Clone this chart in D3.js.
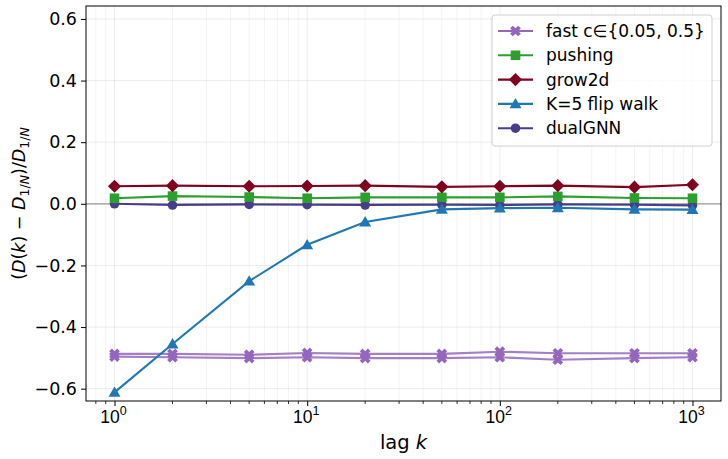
<!DOCTYPE html>
<html>
<head>
<meta charset="utf-8">
<script src="https://cdn.jsdelivr.net/npm/d3@7"></script>
<style>
  body { margin: 0; background: #fff; }
  svg { display: block; font-family: "DejaVu Sans", sans-serif; }
</style>
</head>
<body>
<div id="chart"></div>
<script>
// lags on the x axis
const lags = [1, 2, 5, 10, 20, 50, 100, 200, 500, 1000];

// series values
const fastLow = [-0.487, -0.487, -0.490, -0.484, -0.487, -0.487, -0.480, -0.485, -0.485, -0.485];
const fastHigh = [-0.496, -0.498, -0.501, -0.498, -0.501, -0.501, -0.498, -0.506, -0.501, -0.498];
const pushing = [0.018, 0.025, 0.022, 0.018, 0.021, 0.021, 0.021, 0.024, 0.019, 0.018];
const grow2d = [0.057, 0.059, 0.057, 0.058, 0.059, 0.055, 0.057, 0.059, 0.054, 0.062];
const flipWalk = [-0.612, -0.455, -0.251, -0.133, -0.059, -0.018, -0.014, -0.013, -0.018, -0.019];
const dualGNN = [0.000, -0.004, -0.002, -0.003, -0.004, -0.003, -0.004, -0.002, -0.003, -0.005];

const yTicks = [-0.6, -0.4, -0.2, 0.0, 0.2, 0.4, 0.6];
const xTicks = [1, 10, 100, 1000];

const width = 728;
const height = 459;
const margin = {top: 6, right: 7, bottom: 58, left: 86};

const series = [
  {name: "dualGNN", values: dualGNN, color: "#483d8b", marker: "circle"},
  {name: "fast c∈{0.05, 0.5}", values: fastLow, color: "#9467bd", marker: "x"},
  {name: null, values: fastHigh, color: "#9467bd", marker: "x"},
  {name: "pushing", values: pushing, color: "#2ca02c", marker: "square"},
  {name: "grow2d", values: grow2d, color: "#800020", marker: "diamond"},
  {name: "K=5 flip walk", values: flipWalk, color: "#1f77b4", marker: "triangle"}
];
const legendOrder = ["fast c∈{0.05, 0.5}", "pushing", "grow2d", "K=5 flip walk", "dualGNN"];

const svg = d3.select("#chart").append("svg")
  .attr("width", width)
  .attr("height", height);

const x = d3.scaleLog()
  .domain([Math.pow(10, -0.148), Math.pow(10, 3.148)])
  .range([margin.left, width - margin.right]);

const y = d3.scaleLinear()
  .domain([-0.64, 0.642])
  .range([height - margin.bottom, margin.top]);

// minor ticks for log axis
const minorTicks = [];
for (let d = 0.1; d <= 1000; d *= 10) {
  for (let m = 2; m <= 9; m++) {
    const v = d * m;
    if (v >= x.domain()[0] && v <= x.domain()[1]) minorTicks.push(v);
  }
}

// grid
const grid = svg.append("g");
grid.selectAll("line.minor")
  .data(minorTicks)
  .join("line")
    .attr("x1", d => x(d)).attr("x2", d => x(d))
    .attr("y1", margin.top).attr("y2", height - margin.bottom)
    .attr("stroke", "#b0b0b0").attr("stroke-opacity", 0.2).attr("stroke-width", 0.8);
grid.selectAll("line.vmajor")
  .data(xTicks)
  .join("line")
    .attr("x1", d => x(d)).attr("x2", d => x(d))
    .attr("y1", margin.top).attr("y2", height - margin.bottom)
    .attr("stroke", "#b0b0b0").attr("stroke-opacity", 0.3).attr("stroke-width", 0.8);
grid.selectAll("line.hmajor")
  .data(yTicks)
  .join("line")
    .attr("x1", margin.left).attr("x2", width - margin.right)
    .attr("y1", d => y(d)).attr("y2", d => y(d))
    .attr("stroke", "#b0b0b0").attr("stroke-opacity", 0.3).attr("stroke-width", 0.8);

// zero reference line
svg.append("line")
  .attr("x1", margin.left).attr("x2", width - margin.right)
  .attr("y1", y(0)).attr("y2", y(0))
  .attr("stroke", "#999").attr("stroke-width", 1.2);

const line = d3.line()
  .x((d, i) => x(lags[i]))
  .y(d => y(d));

function symbolPath(kind) {
  if (kind === "circle") return d3.symbol(d3.symbolCircle, 72)();
  if (kind === "square") return d3.symbol(d3.symbolSquare, 92)();
  if (kind === "diamond") return d3.symbol(d3.symbolSquare, 86)();
  if (kind === "triangle") return d3.symbol(d3.symbolTriangle, 62)();
  return d3.symbol(d3.symbolCross, 72)();
}
function symbolRotate(kind) {
  return (kind === "diamond" || kind === "x") ? " rotate(45)" : "";
}

const plot = svg.append("g");
series.forEach(s => {
  plot.append("path")
    .datum(s.values)
    .attr("fill", "none")
    .attr("stroke", s.color)
    .attr("stroke-width", 2.1)
    .attr("stroke-opacity", s.marker === "x" ? 0.85 : 1)
    .attr("d", line);
  plot.append("g")
    .selectAll("path")
    .data(s.values)
    .join("path")
      .attr("d", symbolPath(s.marker))
      .attr("transform", (d, i) => `translate(${x(lags[i])},${y(d) + (s.marker === "triangle" ? 1 : 0)})` + symbolRotate(s.marker))
      .attr("fill", s.color);
});

// frame
svg.append("rect")
  .attr("x", margin.left).attr("y", margin.top)
  .attr("width", width - margin.right - margin.left)
  .attr("height", height - margin.bottom - margin.top)
  .attr("fill", "none").attr("stroke", "#000").attr("stroke-width", 1);

// y axis
const yAxis = svg.append("g")
  .attr("transform", `translate(${margin.left},0)`)
  .call(d3.axisLeft(y).tickValues(yTicks).tickSize(5).tickPadding(4)
    .tickFormat(d => d3.format(".1f")(d).replace("-", "−")));
yAxis.select(".domain").remove();
yAxis.selectAll("text").style("font-size", "17.5px").attr("fill", "#000").style("font-family", "DejaVu Sans");

// x axis
const xAxis = svg.append("g")
  .attr("transform", `translate(0,${height - margin.bottom})`)
  .call(d3.axisBottom(x).tickValues(xTicks).tickSize(5).tickPadding(6).tickFormat(""));
xAxis.select(".domain").remove();
xAxis.append("g").selectAll("line")
  .data(minorTicks)
  .join("line")
    .attr("x1", d => x(d)).attr("x2", d => x(d))
    .attr("y1", 0).attr("y2", 3)
    .attr("stroke", "#000").attr("stroke-width", 0.8);
xAxis.selectAll(".tick text").remove();
const xLabels = xAxis.append("g").selectAll("text")
  .data(xTicks)
  .join("text")
    .attr("x", d => x(d) - 1)
    .attr("y", 22)
    .attr("text-anchor", "middle")
    .style("font-size", "17.5px")
    .attr("fill", "#000");
xLabels.append("tspan").text("10");
xLabels.append("tspan")
  .attr("dy", -8)
  .style("font-size", "12.5px")
  .text(d => Math.round(Math.log10(d)));

// axis titles
svg.append("text")
  .attr("x", (margin.left + width - margin.right) / 2)
  .attr("y", 449)
  .attr("text-anchor", "middle")
  .style("font-size", "19.5px")
  .html('lag <tspan font-style="italic">k</tspan>');

const yt = svg.append("text")
  .attr("transform", `translate(25,${(margin.top + height - margin.bottom) / 2}) rotate(-90)`)
  .attr("text-anchor", "middle")
  .style("font-size", "17.5px");
yt.append("tspan").text("(");
yt.append("tspan").attr("font-style", "italic").text("D");
yt.append("tspan").text("(");
yt.append("tspan").attr("font-style", "italic").text("k");
yt.append("tspan").text(") − ");
yt.append("tspan").attr("font-style", "italic").text("D");
yt.append("tspan").attr("dy", 4).style("font-size", "12.5px").text("1/");
yt.append("tspan").style("font-size", "12.5px").attr("font-style", "italic").text("N");
yt.append("tspan").attr("dy", -4).text(")/");
yt.append("tspan").attr("font-style", "italic").text("D");
yt.append("tspan").attr("dy", 4).style("font-size", "12.5px").text("1/");
yt.append("tspan").style("font-size", "12.5px").attr("font-style", "italic").text("N");

// legend
const legend = svg.append("g").attr("transform", "translate(492,15)");
legend.append("rect")
  .attr("width", 220).attr("height", 131).attr("rx", 3)
  .attr("fill", "#fff").attr("fill-opacity", 0.8)
  .attr("stroke", "#d0d0d0").attr("stroke-width", 1);
const legendItems = legendOrder.map(n => series.find(s => s.name === n));
const li = legend.selectAll("g.item")
  .data(legendItems)
  .join("g")
    .attr("transform", (d, i) => `translate(0,${16 + i * 24.3})`);
li.append("line")
  .attr("x1", 6).attr("x2", 41)
  .attr("stroke", d => d.color).attr("stroke-width", 2.1);
li.append("path")
  .attr("d", d => symbolPath(d.marker))
  .attr("transform", d => `translate(23.5,${d.marker === "triangle" ? 1 : 0})` + symbolRotate(d.marker))
  .attr("fill", d => d.color);
li.append("text")
  .attr("x", 54).attr("dy", "0.35em")
  .style("font-size", "17px")
  .text(d => d.name);
</script>
</body>
</html>
